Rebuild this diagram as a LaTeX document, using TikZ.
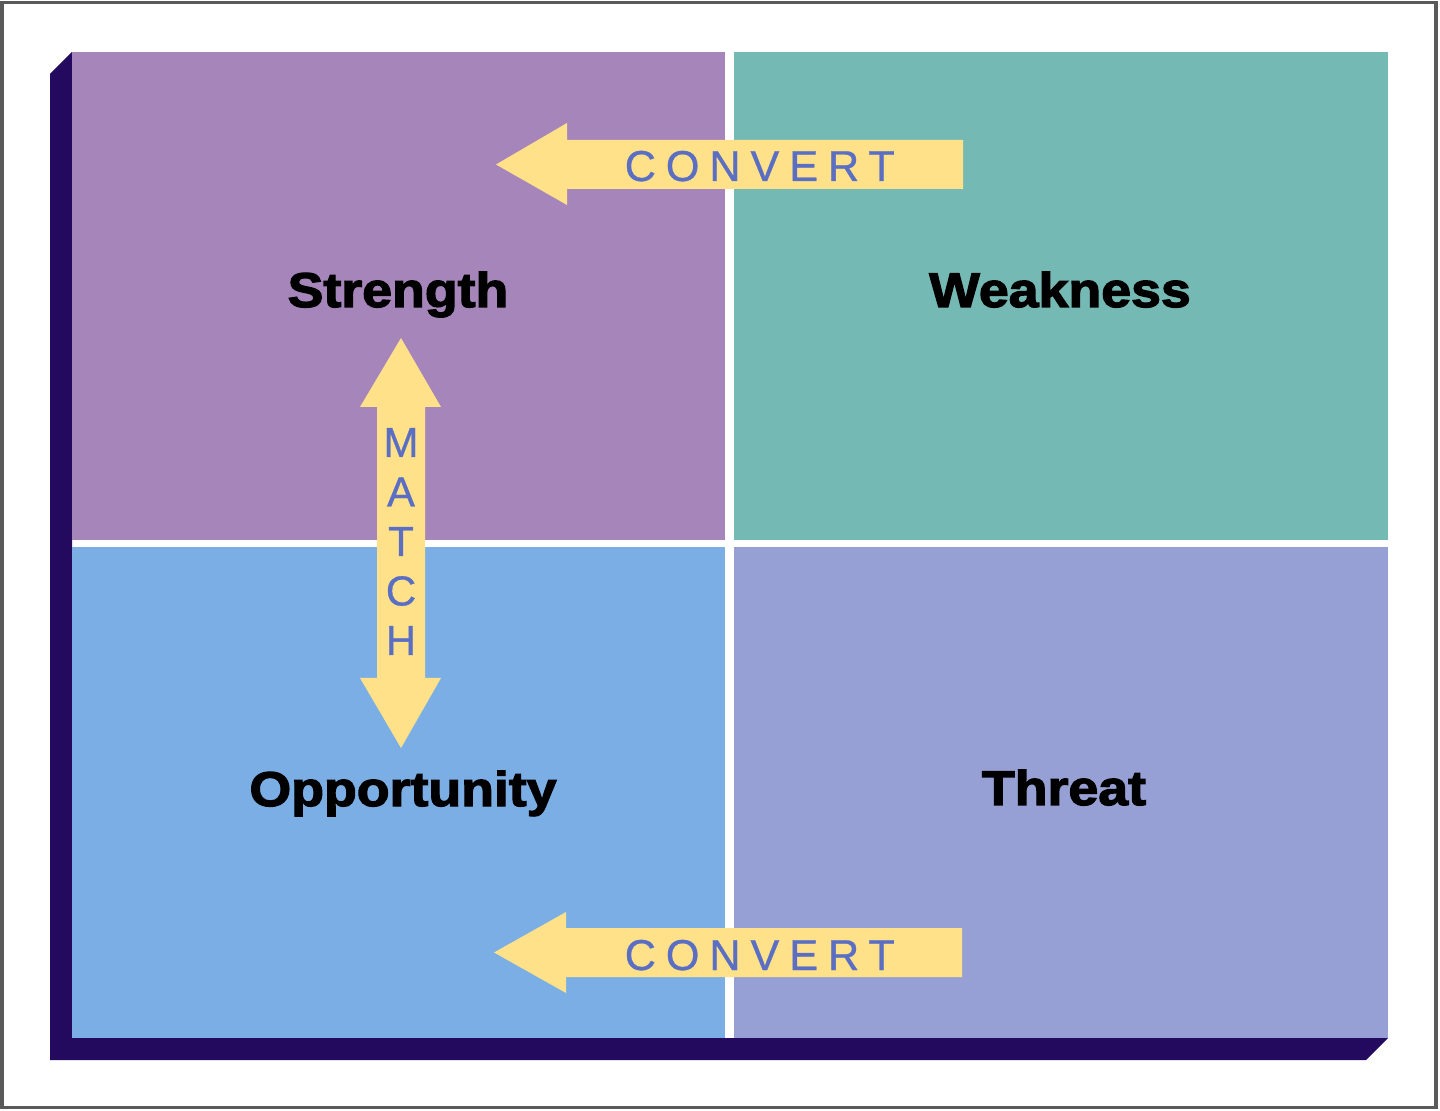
\documentclass[tikz,border=0pt]{standalone}
\usepackage{fontspec}
\setmainfont{Liberation Sans}
\newfontfamily\swotfont{Liberation Sans Bold}[FakeStretch=1.1,FakeBold=2.6]
\newfontfamily\arrowfont{Liberation Sans}[LetterSpace=23,FakeBold=0.7]
\newfontfamily\matchfont{Liberation Sans}[FakeBold=0.7]

\tikzset{every picture/.style={line width=0.75pt}}
\tikzset{
  swotlabel/.style={inner sep=0pt, anchor=base, font=\swotfont\fontsize{24.4pt}{28pt}\selectfont, text=black},
  converttext/.style={inner sep=0pt, anchor=base west, font=\arrowfont\fontsize{21.6pt}{26pt}\selectfont, text={rgb,255:red,90;green,110;blue,196}},
  matchtext/.style={inner sep=0pt, anchor=base, font=\matchfont\fontsize{21pt}{25pt}\selectfont, text={rgb,255:red,90;green,110;blue,196}},
  yellowarrow/.style={fill={rgb,255:red,255;green,225;blue,138}, draw=none}
}

\begin{document}
\begin{tikzpicture}[x=0.5pt,y=0.5pt,yscale=-1,xscale=1]
\useasboundingbox (0,0) rectangle (1440,1111);

%Shape: Frame
\draw [draw={rgb,255:red,90;green,90;blue,90}, line width=1.6pt] (2,2.5) rectangle (1436,1107.5);

%Shape: Shadow
\fill [fill={rgb,255:red,35;green,10;blue,95}] (72,52) -- (50,74) -- (50,1060) -- (1366,1060) -- (1388,1038) -- (72,1038) -- cycle;

%Shape: Quadrants
\fill [fill={rgb,255:red,166;green,134;blue,186}] (72,52) rectangle (725,540);
\fill [fill={rgb,255:red,117;green,185;blue,180}] (734,52) rectangle (1388,540);
\fill [fill={rgb,255:red,122;green,174;blue,229}] (72,547) rectangle (725,1038);
\fill [fill={rgb,255:red,150;green,160;blue,212}] (734,547) rectangle (1388,1038);

%Shape: Arrow top
\fill [yellowarrow] (963,140) -- (567,140) -- (567,123) -- (496,164.5) -- (567,205) -- (567,189) -- (963,189) -- cycle;
%Shape: Arrow bottom
\fill [yellowarrow] (962,928) -- (566,928) -- (566,912) -- (494,952.5) -- (566,993) -- (566,977) -- (962,977) -- cycle;
%Shape: Double arrow
\fill [yellowarrow] (401,338) -- (441,407) -- (425,407) -- (425,678) -- (441,678) -- (401,748) -- (360,678) -- (377,678) -- (377,407) -- (360,407) -- cycle;

%Text
\node [swotlabel] (strength) at (398,307) {Strength};
\node [swotlabel] (weakness) at (1060,307) {Weakness};
\node [swotlabel] (opportunity) at (403,806) {Opportunity};
\node [swotlabel] (threat) at (1064,805) {Threat};

\node [converttext] (convertup) at (624,181) {CONVERT};
\node [converttext] (convertdown) at (624,970) {CONVERT};

\foreach \l [count=\i] in {M,A,T,C,H}
  \node [matchtext] (match\i) at (401,{457+49.5*(\i-1)}) {\l};
\end{tikzpicture}
\end{document}
